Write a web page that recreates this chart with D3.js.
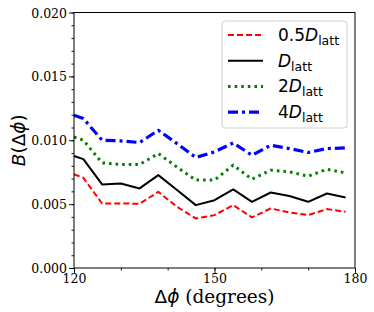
<!DOCTYPE html>
<html lang="en">
<head>
<meta charset="utf-8" />
<title>B(Δϕ) vs Δϕ</title>
<style>
  body { margin:0; background:#fff; }
  svg  { display:block; }
  .tick text { font-family:"DejaVu Serif",serif; font-size:12.5px; fill:#000; }
  .label     { font-family:"DejaVu Sans",sans-serif; font-size:18.5px; fill:#000; }
  .legText   { font-family:"DejaVu Sans",sans-serif; font-size:17px; fill:#000; }
</style>
</head>
<body>
<svg width="374" height="312"></svg>
<script src="https://cdn.jsdelivr.net/npm/d3@7"></script>
<script>
/* ---------- DATA ---------- */
const dphi   = [120, 122, 126, 130, 134, 138, 142, 146, 150, 154, 158, 162, 166, 170, 174, 178];
const half   = [0.00734, 0.00706, 0.00505, 0.00505, 0.00503, 0.00596, 0.00479, 0.00388, 0.00414, 0.00492, 0.00396, 0.00466, 0.00435, 0.00414, 0.00461, 0.00440];
const one    = [0.00877, 0.00852, 0.00654, 0.00662, 0.00623, 0.00727, 0.00610, 0.00492, 0.00531, 0.00615, 0.00518, 0.00591, 0.00563, 0.00518, 0.00583, 0.00552];
const two    = [0.01026, 0.01000, 0.00823, 0.00810, 0.00810, 0.00896, 0.00790, 0.00688, 0.00688, 0.00805, 0.00695, 0.00766, 0.00753, 0.00719, 0.00773, 0.00745];
const four   = [0.01195, 0.01170, 0.01000, 0.00995, 0.00982, 0.01078, 0.00974, 0.00865, 0.00909, 0.00979, 0.00883, 0.00961, 0.00935, 0.00904, 0.00935, 0.00940];
const legendPre = ["0.5", "", "2", "4"];
const xTicks = [120, 150, 180];
const yTicks = [0, 0.005, 0.010, 0.015, 0.020];

const series = [
  { vals: half, color: "#ff0000", width: 2,   dash: "6,3" },
  { vals: one,  color: "#000000", width: 2,   dash: null },
  { vals: two,  color: "#008000", width: 3,   dash: "2.6,4" },
  { vals: four, color: "#0000ff", width: 3.2, dash: "10,4,3,4" }
];

/* ---------- LAYOUT ---------- */
const svg = d3.select("svg");
const L = 74, R = 355, T = 12.5, B = 268;

const x = d3.scaleLinear().domain([120, 180]).range([L, R]);
const y = d3.scaleLinear().domain([0, 0.02]).range([B, T]);

/* ---------- AXES ---------- */
// minor ticks first
svg.append("g").attr("transform", `translate(0,${B})`)
  .call(d3.axisBottom(x).tickValues(d3.range(120, 181, 10)).tickSize(2.5).tickFormat(""))
  .call(g => g.select(".domain").remove());
svg.append("g").attr("transform", `translate(${L},0)`)
  .call(d3.axisLeft(y).tickValues(d3.range(0, 21).map(i => i * 0.001)).tickSize(2.5).tickFormat(""))
  .call(g => g.select(".domain").remove());

const xa = svg.append("g").attr("transform", `translate(0,${B})`)
  .call(d3.axisBottom(x).tickValues(xTicks).tickSize(5).tickPadding(1).tickFormat(d3.format("d")));
xa.select(".domain").remove();

const ya = svg.append("g").attr("transform", `translate(${L},0)`)
  .call(d3.axisLeft(y).tickValues(yTicks).tickSize(5).tickPadding(2).tickFormat(d3.format(".3f")));
ya.select(".domain").remove();
ya.selectAll(".tick text").attr("dy", "0.36em");

svg.selectAll(".tick line").attr("stroke", "#000").attr("stroke-width", 0.9);

/* ---------- LINES ---------- */
const line = d3.line().x((d, i) => x(dphi[i])).y(d => y(d));
svg.append("g").selectAll("path")
  .data(series)
  .join("path")
    .attr("d", d => line(d.vals))
    .attr("fill", "none")
    .attr("stroke", d => d.color)
    .attr("stroke-width", d => d.width)
    .attr("stroke-dasharray", d => d.dash)
    .attr("stroke-linejoin", "round");

// frame
svg.append("rect")
  .attr("x", L).attr("y", T).attr("width", R - L).attr("height", B - T)
  .attr("fill", "none").attr("stroke", "#000").attr("stroke-width", 1);

/* ---------- LABELS ---------- */
const xl = svg.append("text").attr("class", "label")
  .attr("x", (L + R) / 2).attr("y", 303).attr("text-anchor", "middle");
xl.append("tspan").text("Δ");
xl.append("tspan").attr("font-style", "italic").text("ϕ");
xl.append("tspan").attr("font-family", "DejaVu Serif, serif").text(" (degrees)");

const yl = svg.append("text").attr("class", "label")
  .attr("transform", `translate(25,${(T + B) / 2}) rotate(-90)`)
  .attr("text-anchor", "middle");
yl.append("tspan").attr("font-style", "italic").text("B");
yl.append("tspan").text("(Δ");
yl.append("tspan").attr("font-style", "italic").text("ϕ");
yl.append("tspan").text(")");

/* ---------- LEGEND ---------- */
const leg = svg.append("g");
leg.append("rect")
  .attr("x", 222).attr("y", 21).attr("width", 125).attr("height", 107).attr("rx", 3)
  .attr("fill", "#fff").attr("fill-opacity", 0.8).attr("stroke", "#d0d0d0");

series.forEach((s, i) => {
  const cy = 35 + i * 25.7;
  leg.append("line")
    .attr("x1", 228).attr("x2", 263).attr("y1", cy).attr("y2", cy)
    .attr("stroke", s.color).attr("stroke-width", s.width)
    .attr("stroke-dasharray", s.dash);
  const t = leg.append("text").attr("class", "legText").attr("x", 278).attr("y", cy + 6);
  if (legendPre[i]) t.append("tspan").text(legendPre[i]);
  t.append("tspan").attr("font-style", "italic").text("D");
  t.append("tspan").attr("font-size", "12.5px").attr("dy", 4).text("latt");
});
</script>
</body>
</html>
